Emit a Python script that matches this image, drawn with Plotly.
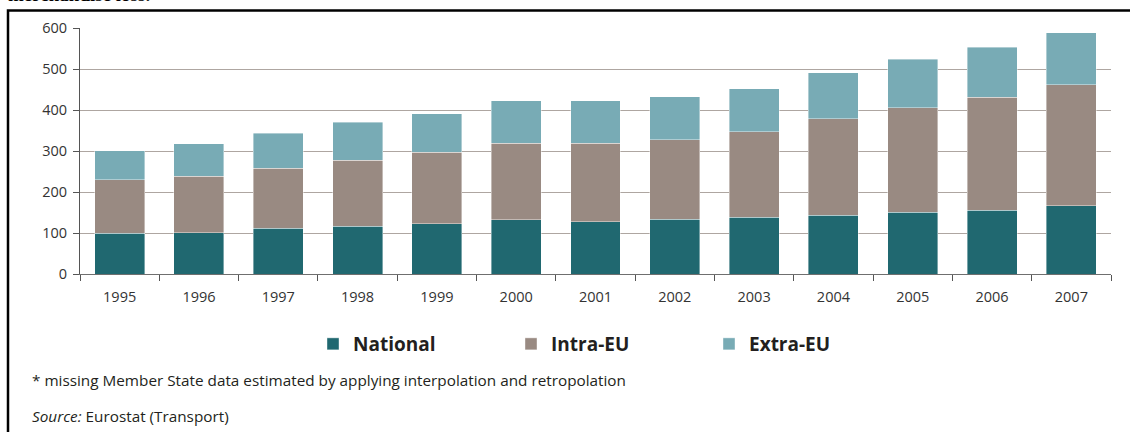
import plotly.graph_objects as go

years = ["1995", "1996", "1997", "1998", "1999", "2000", "2001",
         "2002", "2003", "2004", "2005", "2006", "2007"]
national = [100, 101, 111, 116, 122, 132, 128, 134, 138, 143, 151, 156, 166]
intra_eu = [130, 138, 147, 161, 175, 187, 191, 194, 209, 236, 255, 275, 295]
extra_eu = [71, 79, 85, 93, 94, 103, 103, 104, 105, 112, 118, 122, 128]
y_ticks = [0, 100, 200, 300, 400, 500, 600]

W, H = 1130, 432
L, R, T, B = 80, 19, 28, 158  # plot area margins (px)
pw = W - L - R
ph = H - T - B

def px_x(x):
    return (x - L) / pw

def px_y(y):
    return (H - B - y) / ph

FONT = "Open Sans"
colors = {"National": "#206870", "Intra-EU": "#998a82", "Extra-EU": "#78abb5"}

fig = go.Figure()
for name, vals in [("National", national), ("Intra-EU", intra_eu), ("Extra-EU", extra_eu)]:
    fig.add_trace(go.Bar(
        x=years, y=vals, name=name,
        marker=dict(color=colors[name], line=dict(color="rgba(255,255,255,0.5)", width=0.8)),
    ))

fig.update_layout(
    width=W, height=H,
    margin=dict(l=L, r=R, t=T, b=B, pad=0),
    barmode="stack", bargap=0.37,
    paper_bgcolor="white", plot_bgcolor="white",
    font=dict(family=FONT, size=14, color="#333333"),
    showlegend=True,
    legend=dict(
        orientation="h", x=px_x(313), xanchor="left", y=px_y(344), yanchor="middle",
        font=dict(family=FONT, size=19, color="#231f20", weight="bold"),
        entrywidth=153, entrywidthmode="pixels",
        traceorder="normal", itemclick=False,
    ),
    xaxis=dict(
        type="category", showgrid=False,
        showline=True, linecolor="#6f6f6f", linewidth=1,
        ticks="outside", tickson="boundaries", ticklen=6, tickcolor="#555555",
        ticklabelstandoff=10,
        tickfont=dict(family=FONT, size=14.5, color="#333333"),
    ),
    yaxis=dict(
        range=[0, 600], tickvals=y_ticks, showgrid=True, gridcolor="#aea6a1", gridwidth=1,
        zeroline=False, showline=True, linecolor="#555555", linewidth=1,
        ticks="outside", ticklen=6, tickcolor="#555555",
        ticklabelstandoff=3,
        tickfont=dict(family=FONT, size=14.5, color="#333333"),
    ),
)

# black frame (partially outside the image)
fig.add_shape(type="rect", xref="paper", yref="paper",
              x0=px_x(8), x1=px_x(1200), y0=px_y(10.5), y1=px_y(500),
              line=dict(color="black", width=2.5), fillcolor="rgba(0,0,0,0)", layer="above")

# clipped title above the frame
fig.add_annotation(xref="paper", yref="paper", x=px_x(6), y=px_y(7), xanchor="left", yanchor="bottom",
                   text="merchandise loss.", showarrow=False,
                   font=dict(family="Liberation Serif", size=19, color="black", weight="bold"))

fig.add_annotation(xref="paper", yref="paper", x=px_x(30), y=px_y(380), xanchor="left", yanchor="middle",
                   text="* missing Member State data estimated by applying interpolation and retropolation",
                   showarrow=False, font=dict(family=FONT, size=15.3, color="#231f20"))
fig.add_annotation(xref="paper", yref="paper", x=px_x(30), y=px_y(416), xanchor="left", yanchor="middle",
                   text="<i>Source:</i> Eurostat (Transport)",
                   showarrow=False, font=dict(family=FONT, size=15.3, color="#231f20"))

fig.write_html("out.html", config={"displayModeBar": False},
               post_script="document.body.style.margin='0';document.body.style.overflow='hidden';")
